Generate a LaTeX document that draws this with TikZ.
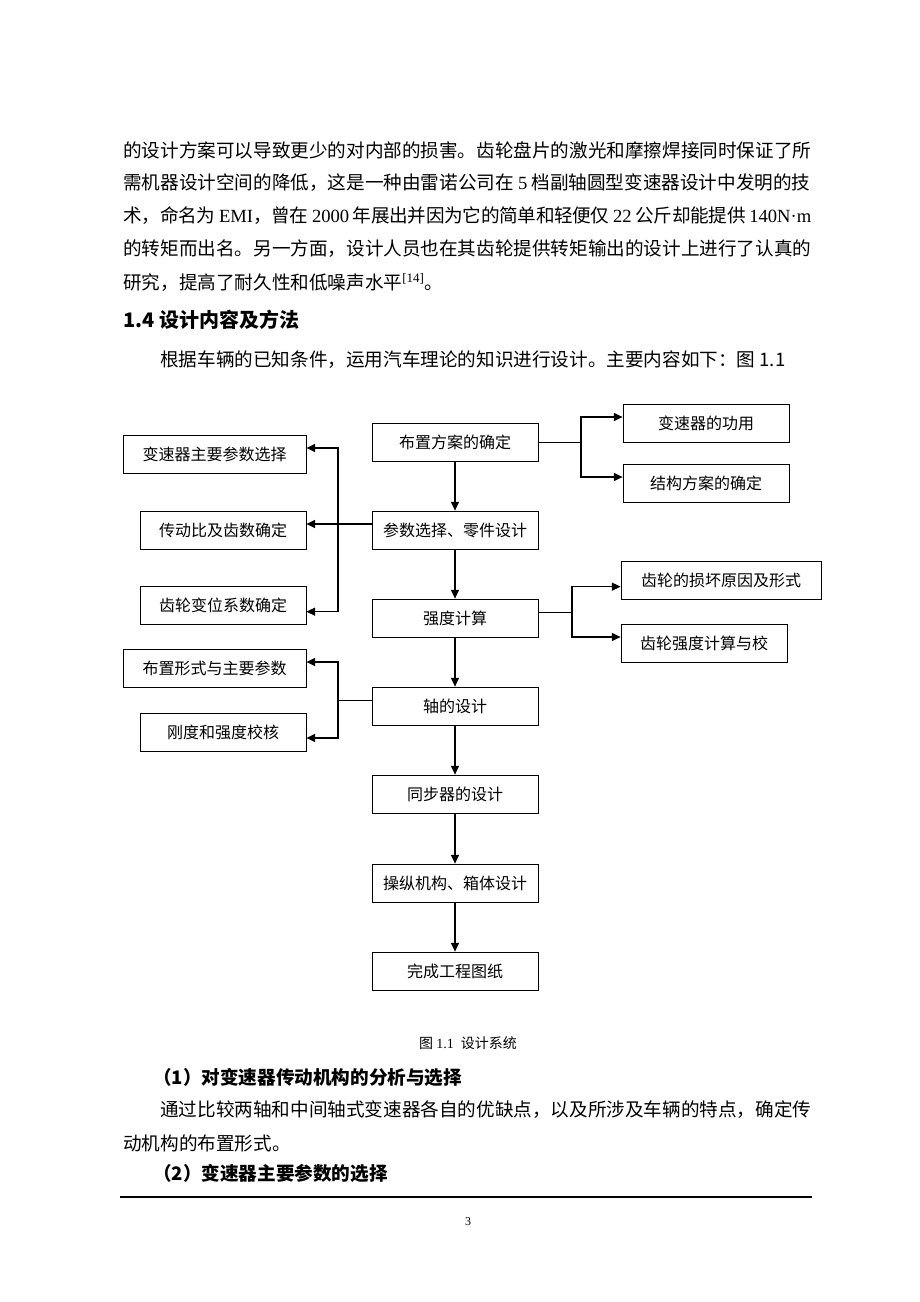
\documentclass[tikz,border=0pt]{standalone}
\usepackage{fontspec}
\setmainfont{Noto Sans CJK SC}
\newfontfamily\tnr{Liberation Serif}
\usetikzlibrary{arrows.meta,positioning}
\XeTeXlinebreaklocale "zh"
\XeTeXlinebreakskip=0pt plus 2pt minus 0.6pt
\newcommand{\fillline}{\parfillskip=0pt\relax}

\tikzset{
  body/.style={anchor=west,inner sep=0pt,font=\fontsize{13.95}{16}\selectfont},
  fullline/.style={body,text width=516pt,align=justify},
  head/.style={body,font=\fontsize{13.95}{16}\selectfont\bfseries},
  box/.style={draw,line width=0.6pt,minimum width=124.5pt,minimum height=28.5pt,
    inner sep=0pt,font=\fontsize{12}{14}\selectfont},
  widebox/.style={box,minimum width=137.25pt},
  widestbox/.style={box,minimum width=150pt},
  link/.style={->,line width=0.9pt},
  stub/.style={line width=0.6pt}
}

\begin{document}
\begin{tikzpicture}[x=0.75pt,y=-0.75pt,>={Triangle[length=6.5pt,width=6pt]}]
  \useasboundingbox (0,0) rectangle (920,1302);
  % text above the figure
  \node[fullline] (l1) at (123,150) {\fillline 的设计方案可以导致更少的对内部的损害。齿轮盘片的激光和摩擦焊接同时保证了所};
  \node[fullline] (l2) at (123,183) {\fillline 需机器设计空间的降低，这是一种由雷诺公司在 {\tnr 5} 档副轴圆型变速器设计中发明的技};
  \node[fullline] (l3) at (123,216) {\fillline 术，命名为 {\tnr EMI}，曾在 {\tnr 2000} 年展出并因为它的简单和轻便仅 {\tnr 22} 公斤却能提供 {\tnr 140N·m}};
  \node[fullline] (l4) at (123,249) {\fillline 的转矩而出名。另一方面，设计人员也在其齿轮提供转矩输出的设计上进行了认真的};
  \node[body] (l5) at (123,282) {研究，提高了耐久性和低噪声水平\textsuperscript{\tnr[14]}。};
  \node[head,font=\fontsize{15}{17}\selectfont\bfseries] (sec) at (123,320) {1.4 设计内容及方法};
  \node[body] (intro) at (160,360) {根据车辆的已知条件，运用汽车理论的知识进行设计。主要内容如下：图 1.1};

  % main column
  \node[box] (plan) at (455,442) {布置方案的确定};
  \node[box] (param) at (455,530) {参数选择、零件设计};
  \node[box] (strength) at (455,618) {强度计算};
  \node[box] (shaft) at (455,706) {轴的设计};
  \node[box] (sync) at (455,794) {同步器的设计};
  \node[box] (control) at (455,883) {操纵机构、箱体设计};
  \node[box] (drawing) at (455,971) {完成工程图纸};

  % left side
  \node[widebox] (mainpar) at (214.5,454) {变速器主要参数选择};
  \node[box] (ratio) at (223,530) {传动比及齿数确定};
  \node[box] (shift) at (223,605) {齿轮变位系数确定};
  \node[widebox] (layout) at (214.5,668) {布置形式与主要参数};
  \node[box] (stiff) at (223,732) {刚度和强度校核};

  % right side
  \node[box] (use) at (706,423) {变速器的功用};
  \node[box] (struct) at (706,483) {结构方案的确定};
  \node[widestbox] (damage) at (721,580) {齿轮的损坏原因及形式};
  \node[box] (check) at (704,643) {齿轮强度计算与校};

  \coordinate (f1) at (581,442);
  \coordinate (f2) at (338,524);
  \coordinate (f3) at (572,612);
  \coordinate (f4) at (338,700);

  \draw [link] (plan) edge (param) (param) edge (strength) (strength) edge (shaft)
    (shaft) edge (sync) (sync) edge (control) (control) edge (drawing);
  \draw [stub] (plan.east) -- (f1);
  \draw [link] (f1) |- ([yshift=4.5pt]use.west);
  \draw [link] (f1) |- ([yshift=4.5pt]struct.west);
  \draw [link] ([yshift=4.5pt]param.west) -- ([yshift=4.5pt]ratio.east);
  \draw [link] (f2) |- ([yshift=4.5pt]mainpar.east);
  \draw [link] (f2) |- ([yshift=-5pt]shift.east);
  \draw [stub] ([yshift=4.5pt]strength.east) -- (f3);
  \draw [link] (f3) |- ([yshift=-5pt]damage.west);
  \draw [link] (f3) |- ([yshift=4.5pt]check.west);
  \draw [stub] ([yshift=4.5pt]shaft.west) -- (f4);
  \draw [link] (f4) |- ([yshift=4.5pt]layout.east);
  \draw [link] (f4) |- ([yshift=-4.5pt]stiff.east);

  % caption and text below
  \node[font=\fontsize{10.5}{12}\selectfont,inner sep=0pt] (cap) at (468,1043) {图 {\tnr 1.1}\enspace 设计系统};
  \node[head] (sub1) at (153,1077) {（1）对变速器传动机构的分析与选择};
  \node[body,text width=488.25pt,align=justify] (l6) at (160,1110) {\fillline 通过比较两轴和中间轴式变速器各自的优缺点，以及所涉及车辆的特点，确定传};
  \node[body] (l7) at (123,1143) {动机构的布置形式。};
  \node[head] (sub2) at (153,1173) {（2）变速器主要参数的选择};
  \coordinate (r1) at (120,1197);
  \coordinate (r2) at (812,1197);
  \draw [line width=1.2pt] (r1) -- (r2);
  \node[font=\fontsize{9}{10}\selectfont\tnr,inner sep=0pt] (page) at (468,1222) {3};
\end{tikzpicture}
\end{document}
